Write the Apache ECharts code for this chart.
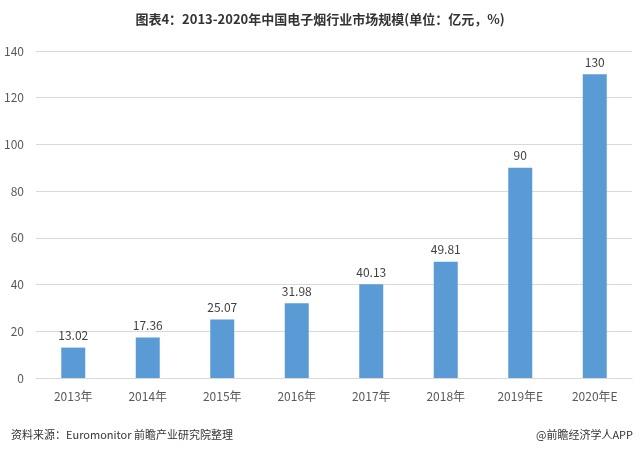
<!DOCTYPE html>
<html><head><meta charset="utf-8">
<script src="https://cdn.jsdelivr.net/npm/echarts@6/dist/echarts.min.js"></script>
<style>html,body{margin:0;padding:0;background:#fff}#c{width:640px;height:450px}</style>
</head><body><div id="c"></div>
<script>
const categories = ['2013年','2014年','2015年','2016年','2017年','2018年','2019年E','2020年E'];
const values = [13.02, 17.36, 25.07, 31.98, 40.13, 49.81, 90, 130];
const yTicks = [0, 20, 40, 60, 80, 100, 120, 140];

const chart = echarts.init(document.getElementById('c'));
chart.setOption({
  backgroundColor: '#fff',
  animation: false,
  title: [{
    text: '图表4：2013-2020年中国电子烟行业市场规模(单位：亿元，%)',
    left: 'center', top: 8,
    textStyle: {fontFamily: 'Noto Sans CJK SC', fontSize: 13, fontWeight: 'bold', color: '#333'}
  }, {
    text: '资料来源：Euromonitor 前瞻产业研究院整理',
    left: 6, top: 424,
    textStyle: {fontFamily: 'Noto Sans CJK SC', fontSize: 11, fontWeight: 'normal', color: '#333'}
  }, {
    text: '@前瞻经济学人APP',
    right: 2, top: 424,
    textStyle: {fontFamily: 'Noto Sans CJK SC', fontSize: 11, fontWeight: 'normal', color: '#333'}
  }],
  grid: {left: 36, right: 8, top: 51, bottom: 72},
  xAxis: {
    type: 'category', data: categories,
    axisLine: {show: true, lineStyle: {color: '#d9d9d9'}},
    axisTick: {show: false},
    axisLabel: {color: '#595959', fontSize: 12, fontFamily: 'Noto Sans CJK SC', margin: 12}
  },
  yAxis: {
    type: 'value', min: yTicks[0], max: yTicks[yTicks.length-1], interval: 20,
    axisLine: {show: false}, axisTick: {show: false},
    splitLine: {lineStyle: {color: '#d9d9d9'}},
    axisLabel: {color: '#595959', fontSize: 12, fontFamily: 'Noto Sans CJK SC', margin: 12}
  },
  series: [{
    type: 'bar', data: values, barWidth: 24,
    itemStyle: {color: '#5B9BD5'},
    label: {show: true, position: 'top', color: '#404040', fontSize: 12, fontFamily: 'Noto Sans CJK SC', distance: 6}
  }]
});
</script></body></html>
